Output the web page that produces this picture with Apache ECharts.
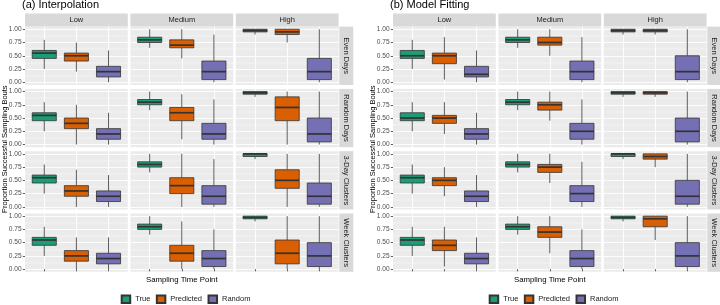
<!DOCTYPE html>
<html>
<head>
<meta charset="utf-8">
<script src="https://cdn.jsdelivr.net/npm/echarts@6/dist/echarts.min.js"></script>
<style>
  html, body { margin: 0; padding: 0; background: #fff; }
  #chart { width: 720px; height: 305px; }
</style>
</head>
<body>
<div id="chart"></div>
<script>
// facet labels
const groups = ["True", "Predicted", "Random"];
const densities = ["Low", "Medium", "High"];
const schemes = ["Even Days", "Random Days", "3-Day Clusters", "Week Clusters"];
const panelTitles = ["(a) Interpolation", "(b) Model Fitting"];
const yTicks = [0, 0.25, 0.5, 0.75, 1];
const yMinor = [0.125, 0.375, 0.625, 0.875];

// boxes: [min, q1, median, q3, max] for True / Predicted / Random, in Low, Medium, High order
const interpEven = [
	[0.25, 0.45, 0.55, 0.6, 0.8], [0.2, 0.4, 0.5, 0.55, 0.75], [0, 0.1, 0.2, 0.3, 0.6],
	[0.65, 0.75, 0.8, 0.85, 1], [0.45, 0.65, 0.7, 0.8, 1], [0, 0.05, 0.2, 0.4, 0.9],
	[0.9, 0.95, 0.975, 1, 1], [0.75, 0.9, 0.95, 1, 1], [0, 0.05, 0.2, 0.45, 1],
];
const interpRandom = [
	[0.25, 0.45, 0.55, 0.6, 0.8], [0, 0.3, 0.4, 0.5, 0.75], [0, 0.1, 0.2, 0.3, 0.6],
	[0.65, 0.75, 0.8, 0.85, 1], [0.1, 0.45, 0.6, 0.7, 0.95], [0, 0.1, 0.2, 0.4, 0.85],
	[0.9, 0.95, 0.975, 1, 1], [0, 0.45, 0.7, 0.9, 1], [0, 0.05, 0.2, 0.5, 1],
];
const interp3Day = [
	[0.25, 0.45, 0.55, 0.6, 0.8], [0, 0.2, 0.3, 0.4, 0.7], [0, 0.1, 0.2, 0.3, 0.6],
	[0.65, 0.75, 0.8, 0.85, 1], [0, 0.25, 0.4, 0.55, 1], [0, 0.05, 0.2, 0.4, 0.9],
	[0.9, 0.95, 1, 1, 1], [0, 0.35, 0.5, 0.7, 1], [0, 0.05, 0.2, 0.45, 1],
];
const interpWeek = [
	[0.25, 0.45, 0.55, 0.6, 0.8], [0, 0.15, 0.25, 0.35, 0.6], [0, 0.1, 0.2, 0.3, 0.6],
	[0.65, 0.75, 0.8, 0.85, 1], [0, 0.15, 0.3, 0.45, 0.9], [0, 0.05, 0.2, 0.35, 0.75],
	[0.9, 0.95, 0.975, 1, 1], [0, 0.1, 0.3, 0.55, 1], [0, 0.05, 0.25, 0.5, 1],
];
const fitEven = [
	[0.25, 0.45, 0.5, 0.6, 0.8], [0.05, 0.35, 0.5, 0.55, 0.85], [0, 0.1, 0.15, 0.3, 0.6],
	[0.65, 0.75, 0.8, 0.85, 1], [0.5, 0.7, 0.75, 0.85, 1], [0, 0.05, 0.2, 0.4, 0.85],
	[0.9, 0.95, 0.975, 1, 1], [0.9, 0.95, 0.975, 1, 1], [0, 0.05, 0.2, 0.5, 1],
];
const fitRandom = [
	[0.25, 0.45, 0.5, 0.6, 0.8], [0.2, 0.4, 0.5, 0.55, 0.8], [0, 0.1, 0.2, 0.3, 0.6],
	[0.65, 0.75, 0.8, 0.85, 1], [0.45, 0.65, 0.75, 0.8, 1], [0, 0.1, 0.25, 0.4, 0.85],
	[0.9, 0.95, 0.975, 1, 1], [0.9, 0.95, 0.975, 1, 1], [0, 0.05, 0.25, 0.5, 1],
];
const fit3Day = [
	[0.25, 0.45, 0.55, 0.6, 0.8], [0.2, 0.4, 0.5, 0.55, 0.75], [0, 0.1, 0.2, 0.3, 0.6],
	[0.65, 0.75, 0.8, 0.85, 1], [0.45, 0.65, 0.75, 0.8, 1], [0, 0.1, 0.25, 0.4, 0.85],
	[0.9, 0.95, 1, 1, 1], [0.75, 0.9, 0.95, 1, 1], [0, 0.05, 0.2, 0.5, 1],
];
const fitWeek = [
	[0.25, 0.45, 0.55, 0.6, 0.8], [0.05, 0.35, 0.45, 0.55, 0.8], [0, 0.1, 0.2, 0.3, 0.6],
	[0.65, 0.75, 0.8, 0.85, 1], [0.3, 0.6, 0.7, 0.8, 1], [0, 0.05, 0.2, 0.35, 0.75],
	[0.9, 0.95, 0.975, 1, 1], [0.55, 0.8, 0.95, 1, 1], [0, 0.05, 0.25, 0.5, 1],
];
const panels = [
	[interpEven, interpRandom, interp3Day, interpWeek],
	[fitEven, fitRandom, fit3Day, fitWeek],
];

// styling
const COLORS = ["#1B9E77", "#D95F02", "#7570B3"];
const EDGE = "#333333";
const FONT = "Liberation Sans, Arial, sans-serif";

// layout (px)
const PANEL_LEFT = [25, 393];
const COL_W = 102.8;
const COL_STEP = 105.4;
const ROW_TOP = 26.6;
const ROW_H = 58.3;
const ROW_STEP = 62.3;
const STRIP_H = 13;
const STRIP_W = 14;
const BOX_W = 0.75;

// ggplot-like box: whiskers without caps, thick median
function renderBox(params, api) {
	const x = api.value(0);
	const lo = api.coord([x, api.value(1)]);
	const q1 = api.coord([x, api.value(2)]);
	const md = api.coord([x, api.value(3)]);
	const q3 = api.coord([x, api.value(4)]);
	const hi = api.coord([x, api.value(5)]);
	const half = api.size([BOX_W, 0])[0] / 2;
	const line = { stroke: EDGE, lineWidth: 0.8 };
	return {
		type: "group",
		children: [
			{ type: "line", shape: { x1: lo[0], y1: lo[1], x2: q1[0], y2: q1[1] }, style: line },
			{ type: "line", shape: { x1: q3[0], y1: q3[1], x2: hi[0], y2: hi[1] }, style: line },
			{
				type: "rect",
				shape: { x: q3[0] - half, y: q3[1], width: half * 2, height: q1[1] - q3[1] },
				style: { fill: api.visual("color"), stroke: EDGE, lineWidth: 0.8 },
			},
			{
				type: "line",
				shape: { x1: md[0] - half, y1: md[1], x2: md[0] + half, y2: md[1] },
				style: { stroke: EDGE, lineWidth: 1.7 },
			},
		],
	};
}

const grid = [];
const xAxis = [];
const yAxis = [];
const series = [];
const graphic = [];

panels.forEach((rows, p) => {
	const left0 = PANEL_LEFT[p];
	rows.forEach((boxes, r) => {
		for (let c = 0; c < 3; c++) {
			const i = grid.length;
			const isLeft = c === 0;
			const isBottom = r === 3;
			grid.push({
				left: left0 + c * COL_STEP,
				top: ROW_TOP + r * ROW_STEP,
				width: COL_W,
				height: ROW_H,
				show: true,
				backgroundColor: "#EBEBEB",
				borderWidth: 0,
				outerBoundsMode: "none",
			});
			xAxis.push({
				gridIndex: i,
				type: "value",
				min: 0.4,
				max: 3.6,
				axisLine: { show: false },
				axisTick: {
					show: isBottom,
					customValues: [1, 2, 3],
					length: 2.2,
					lineStyle: { color: EDGE, width: 0.8 },
				},
				axisLabel: { show: false, customValues: [1, 2, 3] },
				splitLine: { show: true, lineStyle: { color: "#fff", width: 0.9 } },
			});
			// major axis with labels
			yAxis.push({
				gridIndex: i,
				type: "value",
				min: -0.05,
				max: 1.05,
				axisLine: { show: false },
				axisTick: {
					show: isLeft,
					customValues: yTicks,
					length: 2.2,
					lineStyle: { color: EDGE, width: 0.8 },
				},
				axisLabel: {
					show: isLeft,
					customValues: yTicks,
					formatter: (v) => v.toFixed(2),
					fontSize: 6.6,
					color: "#4D4D4D",
					fontFamily: FONT,
					margin: 3.4,
				},
				splitLine: { show: true, lineStyle: { color: "#fff", width: 0.9 } },
			});
			// minor grid lines
			yAxis.push({
				gridIndex: i,
				type: "value",
				position: "left",
				min: -0.05,
				max: 1.05,
				axisLine: { show: false },
				axisTick: { show: false, customValues: yMinor },
				axisLabel: { show: false },
				splitLine: { show: true, lineStyle: { color: "#fff", width: 0.45 } },
			});
			for (let g = 0; g < 3; g++) {
				series.push({
					type: "custom",
					name: groups[g],
					xAxisIndex: i,
					yAxisIndex: 2 * i,
					silent: true,
					animation: false,
					itemStyle: { color: COLORS[g], borderColor: EDGE, borderWidth: 0.8 },
					renderItem: renderBox,
					encode: { x: 0, y: [1, 2, 3, 4, 5] },
					data: [[g + 1].concat(boxes[c * 3 + g])],
				});
			}
		}
		// right strip
		const sx = left0 + 2 * COL_STEP + COL_W + 0.7;
		const sy = ROW_TOP + r * ROW_STEP;
		graphic.push({
			type: "rect",
			shape: { x: sx, y: sy, width: STRIP_W, height: ROW_H },
			style: { fill: "#D9D9D9" },
			silent: true,
		});
		graphic.push({
			type: "text",
			x: sx + STRIP_W / 2,
			y: sy + ROW_H / 2,
			rotation: -Math.PI / 2,
			silent: true,
			style: {
				text: schemes[r],
				align: "center",
				verticalAlign: "middle",
				fontSize: 7.5,
				fontFamily: FONT,
				fill: "#1A1A1A",
			},
		});
	});
	// top strips
	for (let c = 0; c < 3; c++) {
		const sx = left0 + c * COL_STEP;
		graphic.push({
			type: "rect",
			shape: { x: sx, y: ROW_TOP - STRIP_H, width: COL_W, height: STRIP_H },
			style: { fill: "#D9D9D9" },
			silent: true,
		});
		graphic.push({
			type: "text",
			x: sx + COL_W / 2,
			y: ROW_TOP - STRIP_H / 2,
			silent: true,
			style: {
				text: densities[c],
				align: "center",
				verticalAlign: "middle",
				fontSize: 7.5,
				fontFamily: FONT,
				fill: "#1A1A1A",
			},
		});
	}
	// axis titles
	const plotBottom = ROW_TOP + 3 * ROW_STEP + ROW_H;
	graphic.push({
		type: "text",
		x: left0 + (2 * COL_STEP + COL_W) / 2,
		y: plotBottom + 8.2,
		silent: true,
		style: {
			text: "Sampling Time Point",
			align: "center",
			verticalAlign: "middle",
			fontSize: 7.8,
			fontFamily: FONT,
			fill: "#000",
		},
	});
	graphic.push({
		type: "text",
		x: left0 - 20.5,
		y: (ROW_TOP + plotBottom) / 2,
		rotation: Math.PI / 2,
		silent: true,
		style: {
			text: "Proportion Successful Sampling Bouts",
			align: "center",
			verticalAlign: "middle",
			fontSize: 7.5,
			fontFamily: FONT,
			fill: "#000",
		},
	});
	// panel title
	graphic.push({
		type: "text",
		x: left0 - 3,
		y: 5,
		silent: true,
		style: {
			text: panelTitles[p],
			align: "left",
			verticalAlign: "middle",
			fontSize: 11,
			fontFamily: FONT,
			fill: "#000",
		},
	});
});

const chart = echarts.init(document.getElementById("chart"), null, { renderer: "canvas" });
chart.setOption({
	animation: false,
	legend: PANEL_LEFT.map((l) => ({
		data: groups,
		left: l + 95.7,
		top: 294.5,
		padding: 0,
		icon: "rect",
		itemWidth: 8.5,
		itemHeight: 7.5,
		itemGap: 5.5,
		selectedMode: false,
		textStyle: { fontSize: 7.5, color: "#1A1A1A", fontFamily: FONT },
	})),
	grid,
	xAxis,
	yAxis,
	series,
	graphic,
});
</script>
</body>
</html>
